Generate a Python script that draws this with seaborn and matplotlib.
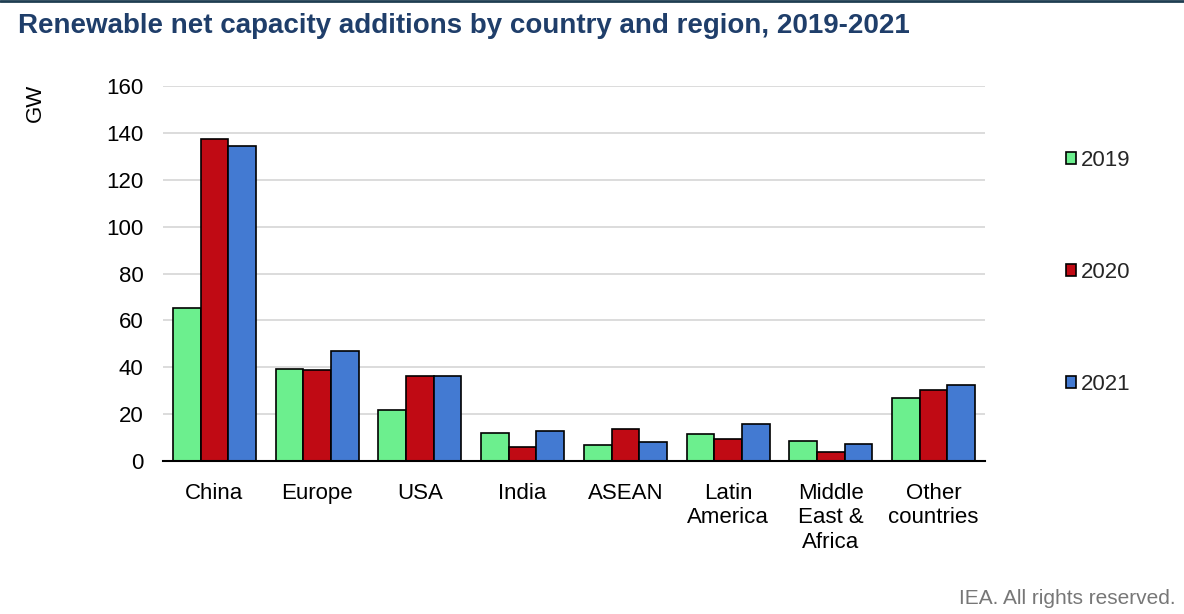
import matplotlib
matplotlib.use("Agg")
import matplotlib.pyplot as plt
import seaborn as sns
import pandas as pd

categories = ["China", "Europe", "USA", "India", "ASEAN", "Latin\nAmerica",
              "Middle\nEast &\nAfrica", "Other\ncountries"]
years = ["2019", "2020", "2021"]
values_2019 = [65.3, 39.3, 21.8, 11.9, 6.8, 11.7, 8.5, 26.9]
values_2020 = [137.4, 38.8, 36.3, 6.0, 13.8, 9.5, 4.0, 30.4]
values_2021 = [134.5, 46.9, 36.3, 12.8, 8.0, 15.6, 7.4, 32.3]
colors = ["#6cef8e", "#c00a14", "#437ad2"]

rows = []
for yr, vals in zip(years, [values_2019, values_2020, values_2021]):
    for c, v in zip(categories, vals):
        rows.append({"category": c, "year": yr, "value": v})
df = pd.DataFrame(rows)

sns.set_theme(style="white")
plt.rcParams['font.family'] = ['Liberation Sans', 'DejaVu Sans']

fig = plt.figure(figsize=(11.84, 6.14), dpi=100)
ax = fig.add_axes([163/1184, 1 - 461/614, (985-163)/1184, (461-86)/614])

sns.barplot(data=df, x="category", y="value", hue="year", palette=colors,
            order=categories, hue_order=years, width=0.81, edgecolor="black",
            linewidth=1.2, saturation=1, ax=ax, legend=True)

ax.set_ylim(0, 160)
ax.set_yticks(range(0, 161, 20))
ax.yaxis.grid(True, color="#d9d9d9", linewidth=1.3)
ax.set_axisbelow(True)
for s in ["left", "right", "top"]:
    ax.spines[s].set_visible(False)
ax.spines["bottom"].set_color("black")
ax.spines["bottom"].set_linewidth(1.5)
ax.set_xlabel("")
ax.set_ylabel("")
ax.tick_params(axis="y", length=0, pad=14, labelsize=16, labelcolor="black")
ax.tick_params(axis="x", length=0, pad=15.5, labelsize=16, labelcolor="black")
for lbl in ax.get_xticklabels():
    lbl.set_linespacing(1.22)
    lbl.set_verticalalignment("top")

fig.text(35/1184, 1 - 103/614, "GW", rotation=90, fontsize=16,
         ha="center", va="center", color="black")

leg = ax.legend(loc="upper left", bbox_to_anchor=(1046/1184, 1 - 130/614),
                bbox_transform=fig.transFigure, frameon=False, fontsize=16,
                labelspacing=4.1, handlelength=0.45, handleheight=0.45,
                handletextpad=0.2)
for h in leg.legend_handles:
    h.set_edgecolor("black")
    h.set_linewidth(1.2)

fig.text(18/1184, 1 - 26/614, "Renewable net capacity additions by country and region, 2019-2021",
         fontsize=20, fontweight="bold", color="#1f3e6a", ha="left", va="center")
fig.add_artist(plt.Line2D([0, 1], [1 - 1/614, 1 - 1/614], color="#1f3e52",
                          linewidth=2, transform=fig.transFigure))
fig.text(1176/1184, 1 - 599/614, "IEA. All rights reserved.", fontsize=15,
         color="#777777", ha="right", va="center")

fig.savefig("out.png", dpi=100)
